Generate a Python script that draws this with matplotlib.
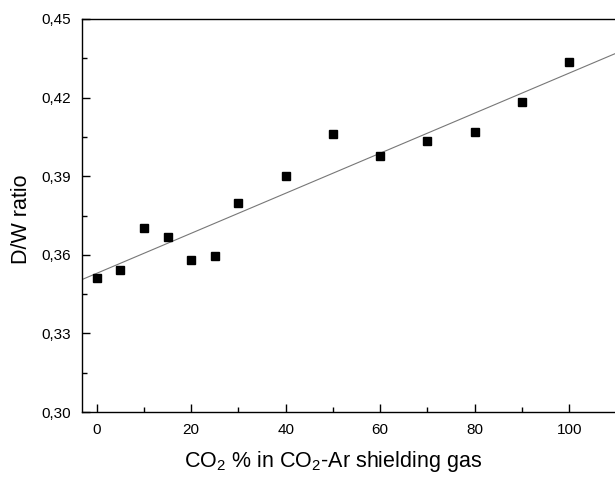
import matplotlib
matplotlib.use("Agg")
import matplotlib.pyplot as plt
import numpy as np
from matplotlib.ticker import FuncFormatter, MultipleLocator

plt.rcParams["font.family"] = ["Liberation Sans", "DejaVu Sans"]
plt.rcParams["mathtext.fontset"] = "custom"
plt.rcParams["mathtext.rm"] = "Liberation Sans"

co2_pct = [0, 5, 10, 15, 20, 25, 30, 40, 50, 60, 70, 80, 90, 100]
dw_ratio = [0.3511, 0.3542, 0.3702, 0.3668, 0.3580, 0.3595, 0.3798,
            0.3901, 0.4061, 0.3977, 0.4033, 0.4067, 0.4185, 0.4336]

slope, intercept = np.polyfit(co2_pct, dw_ratio, 1)

fig = plt.figure(figsize=(6.15, 4.82), dpi=100)
ax = fig.add_axes([0.1333, 0.1452, 0.8667, 0.8154])

xs = np.array([-3.1, 109.7])
ax.plot(xs, slope * xs + intercept, color="#777777", linewidth=0.8, zorder=2)
ax.plot(co2_pct, dw_ratio, linestyle="none", marker="s", markersize=6.3,
        color="black", zorder=3)

ax.set_xlim(-3.1, 109.7)
ax.set_ylim(0.30, 0.45)

ax.xaxis.set_major_locator(MultipleLocator(20))
ax.xaxis.set_minor_locator(MultipleLocator(10))
ax.yaxis.set_major_locator(MultipleLocator(0.03))
ax.yaxis.set_minor_locator(MultipleLocator(0.015))
ax.yaxis.set_major_formatter(FuncFormatter(lambda v, _: f"{v:.2f}".replace(".", ",")))

ax.spines["right"].set_visible(False)
for s in ("left", "bottom", "top"):
    ax.spines[s].set_linewidth(1.0)

ax.tick_params(which="both", direction="in", top=False, right=False,
               labelsize=11, width=1.0)
ax.tick_params(which="major", length=6, pad=8)
ax.tick_params(which="minor", length=3.8)

ax.set_xlabel(r"CO$\mathregular{_2}$ % in CO$\mathregular{_2}$-Ar shielding gas",
              fontsize=15.5)
ax.xaxis.set_label_coords(0.471, -0.095)
ax.set_ylabel("D/W ratio", fontsize=15.5)
ax.yaxis.set_label_coords(-0.094, 0.49)

fig.savefig("out.png", dpi=100)
